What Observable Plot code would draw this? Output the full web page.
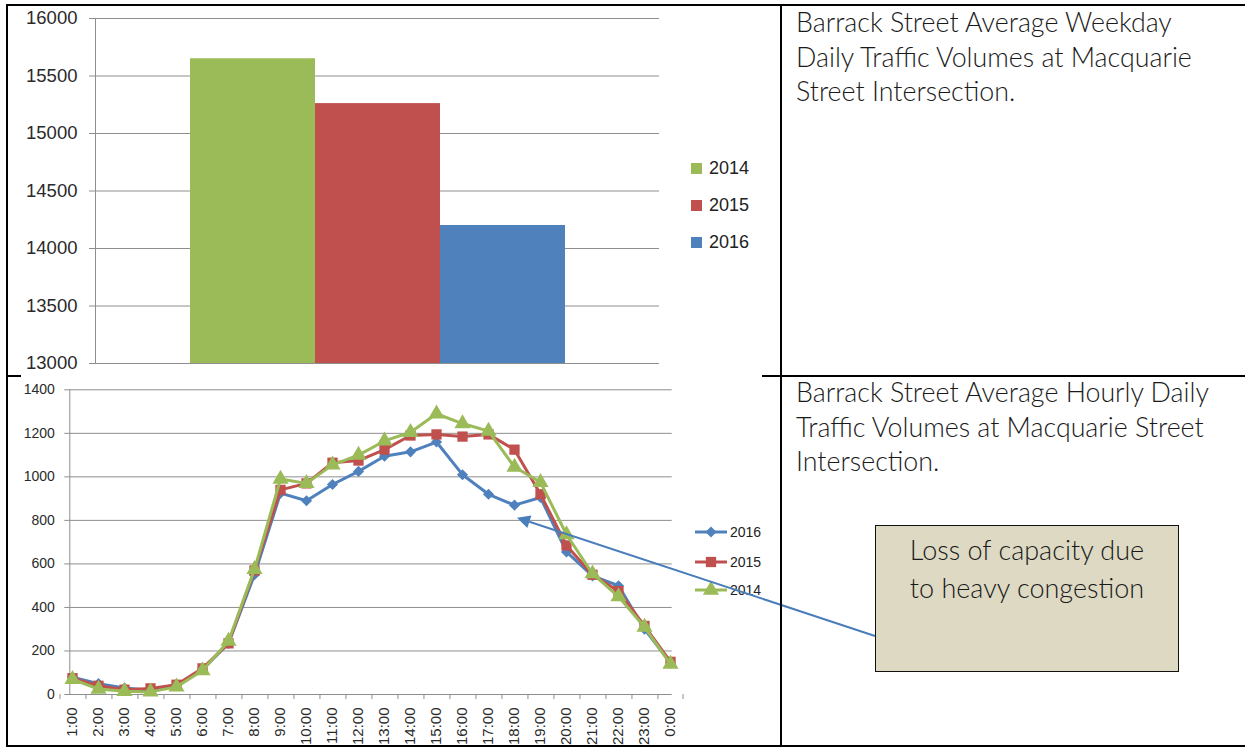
<!DOCTYPE html>
<html><head><meta charset="utf-8">
<script src="https://cdn.jsdelivr.net/npm/d3@7"></script>
<script src="https://cdn.jsdelivr.net/npm/@observablehq/plot@0.6"></script>
<style>
html,body{margin:0;padding:0;background:#fff;}
#page{position:relative;width:1245px;height:747px;overflow:hidden;background:#fff;}
.abs{position:absolute;}
.b{position:absolute;background:#000;z-index:5;}
.txt{position:absolute;font-family:Lato,"Open Sans",sans-serif;font-weight:300;color:#1a1a1a;font-size:26.8px;line-height:34.5px;white-space:nowrap;}
.leg{position:absolute;font-family:"Liberation Sans",Arial,sans-serif;color:#222;white-space:nowrap;display:flex;align-items:center;}
</style></head><body>
<div id="page">
  <div id="topChart" class="abs" style="left:0;top:0;"></div>
  <div id="bottomChart" class="abs" style="left:0;top:376px;"></div>
  <div id="topLegend"></div>
  <div id="bottomLegend"></div>
  <div class="txt" style="left:796px;top:5px;">Barrack Street Average Weekday<br>Daily Traffic Volumes at Macquarie<br>Street Intersection.</div>
  <div class="txt" style="left:796px;top:375px;">Barrack Street Average Hourly Daily<br>Traffic Volumes at Macquarie Street<br>Intersection.</div>
  <div id="callout" class="abs" style="left:875px;top:525px;width:302px;height:145px;background:#DDD9C3;border:1.5px solid #111;z-index:4;">
    <div style="font-family:Lato,'Open Sans',sans-serif;font-weight:300;font-size:27px;line-height:38px;color:#1a1a1a;text-align:center;padding-top:5px;">Loss of capacity due<br>to heavy congestion</div>
  </div>
  <svg id="overlay" class="abs" style="left:0;top:0;z-index:3;pointer-events:none;" width="1245" height="747"></svg>
  <div class="b" style="left:6px;top:4px;width:1239px;height:2px;"></div>
  <div class="b" style="left:6px;top:4px;width:2px;height:743px;"></div>
  <div class="b" style="left:780px;top:4px;width:2px;height:743px;"></div>
  <div class="b" style="left:762px;top:375px;width:483px;height:2px;"></div>
  <div class="b" style="left:6px;top:375px;width:15px;height:2px;"></div>
  <div class="b" style="left:6px;top:745px;width:1239px;height:2px;"></div>
</div>
<script>
// ---------- data ----------
const years = ["2014", "2015", "2016"];
const dailyVolumes = [15650, 15260, 14200];
const yearColors = ["#9BBB59", "#C0504D", "#4F81BD"];
const dailyTicks = [13000, 13500, 14000, 14500, 15000, 15500, 16000];

const hours = ["1:00","2:00","3:00","4:00","5:00","6:00","7:00","8:00","9:00","10:00","11:00","12:00",
               "13:00","14:00","15:00","16:00","17:00","18:00","19:00","20:00","21:00","22:00","23:00","0:00"];
const hourly2016 = [80, 50, 30, 20, 40, 115, 235, 550, 925, 890, 965, 1025, 1095, 1115, 1160, 1010, 920, 870, 905, 655, 545, 500, 300, 145];
const hourly2015 = [75, 40, 22, 28, 45, 120, 235, 570, 940, 970, 1065, 1075, 1125, 1190, 1195, 1185, 1195, 1125, 920, 685, 550, 475, 315, 150];
const hourly2014 = [70, 25, 15, 12, 35, 110, 245, 575, 990, 970, 1055, 1100, 1165, 1205, 1290, 1245, 1210, 1045, 975, 735, 555, 450, 310, 140];
const hourlyTicks = [0, 200, 400, 600, 800, 1000, 1200, 1400];

const annotation = {hour: "18:00", value: 810};

// ---------- top bar chart ----------
const grid = "#8e8e8e";
const barData = years.map((year, i) => ({year, value: dailyVolumes[i]}));
const topPlot = Plot.plot({
  width: 781, height: 376,
  marginLeft: 95, marginRight: 122, marginTop: 18, marginBottom: 13,
  style: {background: "transparent", maxWidth: "none", fontFamily: "'Liberation Sans', Arial, sans-serif", overflow: "visible"},
  x: {domain: years, paddingInner: 0, paddingOuter: 0.75, axis: null},
  y: {domain: [dailyTicks[0], dailyTicks[dailyTicks.length - 1]], label: null},
  color: {domain: years, range: yearColors},
  marks: [
    Plot.gridY(dailyTicks, {stroke: grid, strokeOpacity: 1}),
    Plot.barY(barData, {x: "year", y1: dailyTicks[0], y2: "value", fill: "year"}),
    Plot.frame({anchor: "left", stroke: grid}),
    Plot.axisY(dailyTicks, {label: null, tickSize: 6, tickPadding: 12, fontSize: 18.5, stroke: grid, fill: "#2a2a2a", tickFormat: d => String(d)})
  ]
});
document.getElementById("topChart").appendChild(topPlot);

// top legend
const topLegend = document.getElementById("topLegend");
years.forEach((y, i) => {
  const d = document.createElement("div");
  d.className = "leg";
  d.style.cssText = `left:691px;top:${158 + i * 37}px;height:20px;font-size:18px;`;
  d.innerHTML = `<span style="display:inline-block;width:11px;height:11px;background:${yearColors[i]};margin-right:7px;"></span>${y}`;
  topLegend.appendChild(d);
});

// ---------- bottom line chart ----------
const series = [
  {year: "2016", values: hourly2016, color: "#4F81BD", symbol: "diamond2", r: 5},
  {year: "2015", values: hourly2015, color: "#C0504D", symbol: "square", r: 5.8},
  {year: "2014", values: hourly2014, color: "#9BBB59", symbol: "triangle", r: 6}
];
const bw = (781 - 69.3 - 109.3) / hours.length;
const lineMarks = [];
series.forEach(s => {
  const rows = hours.map((h, i) => ({hour: h, v: s.values[i]}));
  lineMarks.push(Plot.line(rows, {x: "hour", y: "v", stroke: s.color, strokeWidth: 3}));
  lineMarks.push(Plot.dot(rows, {x: "hour", y: "v", fill: s.color, symbol: () => s.symbol, r: s.r}));
});
const bottomPlot = Plot.plot({
  width: 781, height: 370,
  marginLeft: 69.3, marginRight: 109.3, marginTop: 13.3, marginBottom: 52,
  style: {background: "transparent", maxWidth: "none", fontFamily: "'Liberation Sans', Arial, sans-serif", overflow: "visible"},
  x: {domain: hours, padding: 0, axis: null, label: null},
  y: {domain: [hourlyTicks[0], hourlyTicks[hourlyTicks.length - 1]], label: null},
  symbol: {type: "identity"},
  marks: [
    Plot.gridY(hourlyTicks, {stroke: grid, strokeOpacity: 1}),
    Plot.frame({anchor: "left", stroke: grid}),
    Plot.ruleX(hours, {x: d => d, dx: -bw / 2, y1: 0, y2: 0, insetBottom: -5, stroke: grid}),
    Plot.ruleX(hours.slice(-1), {x: d => d, dx: bw / 2, y1: 0, y2: 0, insetBottom: -5, stroke: grid}),
    Plot.axisY(hourlyTicks, {label: null, tickSize: 5, tickPadding: 10, fontSize: 14, stroke: grid, fill: "#2a2a2a", tickFormat: d => String(d)}),
    Plot.axisX(hours, {label: null, tickSize: 0, tickRotate: -90, tickPadding: 13, fontSize: 15, fill: "#2a2a2a"}),
    ...lineMarks
  ]
});
document.getElementById("bottomChart").appendChild(bottomPlot);

// bottom legend
const symMap = {diamond2: d3.symbolDiamond2, square: d3.symbolSquare, triangle: d3.symbolTriangle};
const bottomLegend = document.getElementById("bottomLegend");
const legCenters = [531.7, 561.7, 590];
series.forEach((s, i) => {
  const d = document.createElement("div");
  d.className = "leg";
  d.style.cssText = `left:695px;top:${legCenters[i] - 10}px;height:20px;font-size:14px;z-index:2;`;
  const path = d3.symbol(symMap[s.symbol], Math.PI * s.r * s.r)();
  d.innerHTML = `<svg width="33" height="20" style="margin-right:2px"><line x1="0" x2="32" y1="10" y2="10" stroke="${s.color}" stroke-width="3"/><path d="${path}" transform="translate(16,10)" fill="${s.color}"/></svg>${s.year}`;
  bottomLegend.appendChild(d);
});

// annotation arrow (from callout box to the 18:00 dip)
const xs = bottomPlot.scale("x"), ys = bottomPlot.scale("y");
const tipX = xs.apply(annotation.hour) + xs.bandwidth / 2 + 3;
const tipY = 376 + ys.apply(annotation.value);
const box = document.getElementById("callout");
const tailX = box.offsetLeft;
const tailY = box.offsetTop + box.offsetHeight * 0.755;
const ov = d3.select("#overlay");
const ang = Math.atan2(tipY - tailY, tipX - tailX);
const L = 13, W = 6.5;
const baseX = tipX - L * Math.cos(ang), baseY = tipY - L * Math.sin(ang);
ov.append("line").attr("x1", tailX).attr("y1", tailY).attr("x2", baseX).attr("y2", baseY)
  .attr("stroke", "#4A7EBB").attr("stroke-width", 2);
ov.append("polygon").attr("fill", "#4A7EBB").attr("points", [
  [tipX, tipY],
  [baseX + W * Math.sin(ang), baseY - W * Math.cos(ang)],
  [baseX - W * Math.sin(ang), baseY + W * Math.cos(ang)]
].map(p => p.join(",")).join(" "));
</script>
</body></html>
